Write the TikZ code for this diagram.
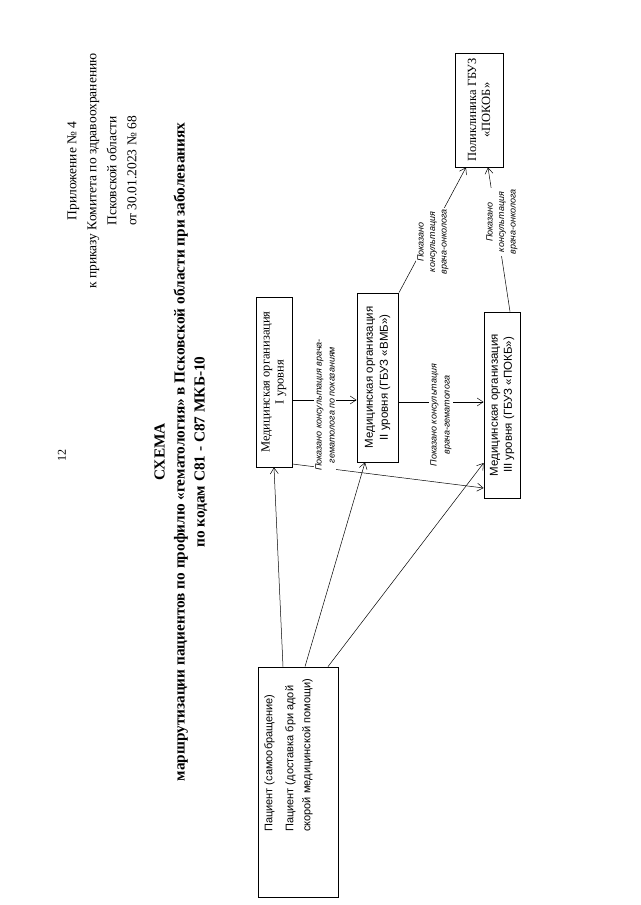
\documentclass[tikz,border=0pt]{standalone}
\usepackage{fontspec}
\setmainfont{Liberation Serif}
\newfontfamily\sansf{Liberation Sans}
\usetikzlibrary{arrows.meta,calc}
\begin{document}
\begin{tikzpicture}[x=1pt,y=-1pt,
  box/.style={draw, line width=0.8pt, rotate=90, inner sep=2pt, align=center},
  lbl/.style={rotate=90, fill=white, inner sep=1pt, align=center, font=\sansf\itshape\fontsize{9}{13}\selectfont},
  arr/.style={-{Straight Barb[length=6pt,width=8pt]}, line width=0.5pt},
  ln/.style={line width=0.5pt}]
\useasboundingbox (0,0) rectangle (640,905);
\fill[white] (0,0) rectangle (640,905);
% page number and header
\node[rotate=90, font=\fontsize{12}{14}\selectfont] (pg) at (62,455) {12};
\node[rotate=90, align=center, font=\fontsize{13.5}{20}\selectfont] (hdr) at (102,171)
  {Приложение № 4\\к приказу Комитета по здравоохранению\\Псковской области\\от 30.01.2023 № 68};
% title
\node[rotate=90, align=center, font=\bfseries\fontsize{15.3}{20}\selectfont] (ttl) at (181,452)
  {СХЕМА\\маршрутизации пациентов по профилю «гематология» в Псковской области при заболеваниях\\по кодам С81 - С87 МКБ-10};
% boxes
\node[box, minimum width=230, minimum height=80] (A) at (298,782) {};
\node[rotate=90, anchor=north west, align=left, inner sep=0pt, font=\sansf\fontsize{11}{17}\selectfont] (At) at (264,832)
  {Пациент (самообращение)\\[4pt]Пациент (доставка бри адой\\скорой медицинской помощи)};
\node[box, minimum width=170, minimum height=36, font=\fontsize{12.5}{14}\selectfont] (B) at (274,382)
  {Медицинская организация\\I уровня};
\node[box, minimum width=169, minimum height=41, font=\sansf\fontsize{11.5}{15}\selectfont] (C) at (377.5,377.5)
  {Медицинская организация\\II уровня (ГБУЗ «ВМБ»)};
\node[box, minimum width=186, minimum height=36, font=\sansf\fontsize{11.5}{14}\selectfont] (D) at (502,405)
  {Медицинская организация\\III уровня (ГБУЗ «ПОКБ»)};
\node[box, minimum width=114, minimum height=48, font=\fontsize{12.5}{14}\selectfont] (E) at (479,110)
  {Поликлиника ГБУЗ\\«ПОКОБ»};
% connectors
\draw[arr] (A.east -| 283,0) -- (B.west -| 274,0);
\draw[arr] (A.east -| 305,0) -- (C.west -| 365,0);
\draw[arr] (A.east -| 328,0) -- (D.north |- 0,463);
\draw[arr] (B.south |- 0,464) -- (D.north |- 0,488);
\draw[arr] (B.south |- 0,400) -- (C.north |- 0,400);
\draw[arr] (C.south |- 0,402) -- (D.north |- 0,402);
\draw[arr] (C.east -| 399,0) -- (E.west -| 466,0);
\draw[arr] (D.east -| 510,0) -- (E.west -| 488,0);
% labels
\node[lbl] (L1) at (325,405) {Показано консультация врача-\\гематолога по показаниям};
\node[lbl] (L2) at (441,415) {Показано консультация\\врача-гематолога};
\node[lbl, font=\sansf\itshape\fontsize{9}{11.5}\selectfont] (L3) at (433,242) {Показано\\консультация\\врача-онколога};
\node[lbl, font=\sansf\itshape\fontsize{9}{11.5}\selectfont] (L4) at (502,222) {Показано\\консультация\\врача-онколога};
\end{tikzpicture}
\end{document}
